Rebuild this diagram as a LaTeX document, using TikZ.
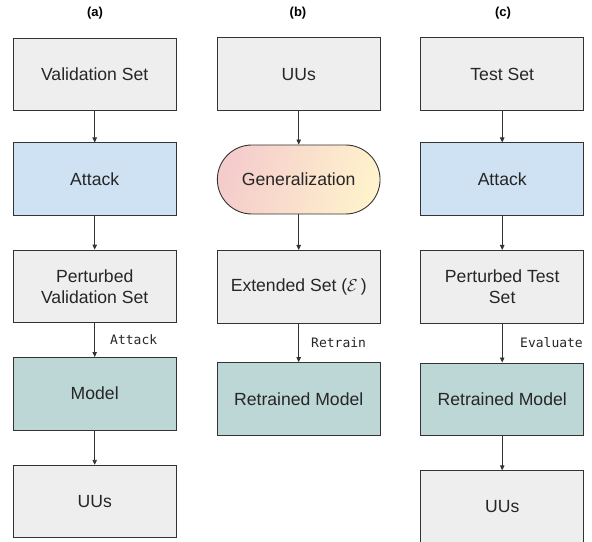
\documentclass[tikz,border=0pt]{standalone}
\usepackage{fontspec}
\setmainfont{Liberation Sans}
\newfontfamily\monofont{DejaVu Sans Mono}
\usetikzlibrary{arrows.meta}
\definecolor{grayfill}{HTML}{EEEEEE}
\definecolor{bluefill}{HTML}{CFE2F3}
\definecolor{tealfill}{HTML}{BCD7D5}
\definecolor{pinkfill}{HTML}{F4CCCC}
\definecolor{yellowfill}{HTML}{FFF2CC}
\definecolor{edgecol}{HTML}{333333}
\tikzset{
  box/.style={draw=edgecol, line width=0.9bp, minimum width=162.7bp, minimum height=72.5bp,
    inner sep=2bp, align=center, font=\fontsize{17.6bp}{21bp}\selectfont, text=black!85},
  grayb/.style={box, fill=grayfill},
  blueb/.style={box, fill=bluefill},
  tealb/.style={box, fill=tealfill},
  stadium/.style={box, minimum height=69bp, rounded corners=34.5bp,
    left color=pinkfill, right color=yellowfill, shading angle=75},
  conn/.style={draw=edgecol, line width=0.9bp, -{Triangle[length=5bp,width=4.5bp]}},
  elabel/.style={anchor=west, inner sep=0pt, font=\monofont\fontsize{13bp}{15bp}\selectfont, text=black!85},
  panel/.style={font=\bfseries\fontsize{13bp}{15bp}\selectfont, inner sep=0pt}
}
\begin{document}
\begin{tikzpicture}[x=1bp, y=-1bp]
\useasboundingbox (0,0) rectangle (592,542);
% panel labels
\node[panel] (la) at (95,13) {(a)};
\node[panel] (lb) at (298,13) {(b)};
\node[panel] (lc) at (503,13) {(c)};
% column (a)
\node[grayb] (a1) at (94.7,74.3) {Validation Set};
\node[blueb] (a2) at (94.7,179.2) {Attack};
\node[grayb] (a3) at (94.7,286.3) {Perturbed\\Validation Set};
\node[tealb] (a4) at (94.7,393.7) {Model};
\node[grayb] (a5) at (94.7,501.5) {UUs};
\draw[conn] (a1) -- (a2);
\draw[conn] (a2) -- (a3);
\draw[conn] (a3) -- (a4);
\draw[conn] (a4) -- (a5);
\node[elabel] (ta) at (110,340) {Attack};
% column (b)
\node[grayb] (b1) at (298.7,74.2) {UUs};
\node[stadium] (b2) at (298.7,179.5) {Generalization};
\node[grayb] (b3) at (298.7,286.7) {Extended Set ($\mathcal{E}$\,)};
\node[tealb] (b4) at (298.7,398.8) {Retrained Model};
\draw[conn] (b1) -- (b2);
\draw[conn] (b2) -- (b3);
\draw[conn] (b3) -- (b4);
\node[elabel] (tb) at (311,343) {Retrain};
% column (c)
\node[grayb] (c1) at (502.2,74.2) {Test Set};
\node[blueb] (c2) at (502.2,179.2) {Attack};
\node[grayb] (c3) at (502.2,286.7) {Perturbed Test\\Set};
\node[tealb] (c4) at (502.2,399.2) {Retrained Model};
\node[grayb] (c5) at (502.2,507) {UUs};
\draw[conn] (c1) -- (c2);
\draw[conn] (c2) -- (c3);
\draw[conn] (c3) -- (c4);
\draw[conn] (c4) -- (c5);
\node[elabel] (tc) at (520,343) {Evaluate};
\end{tikzpicture}
\end{document}
